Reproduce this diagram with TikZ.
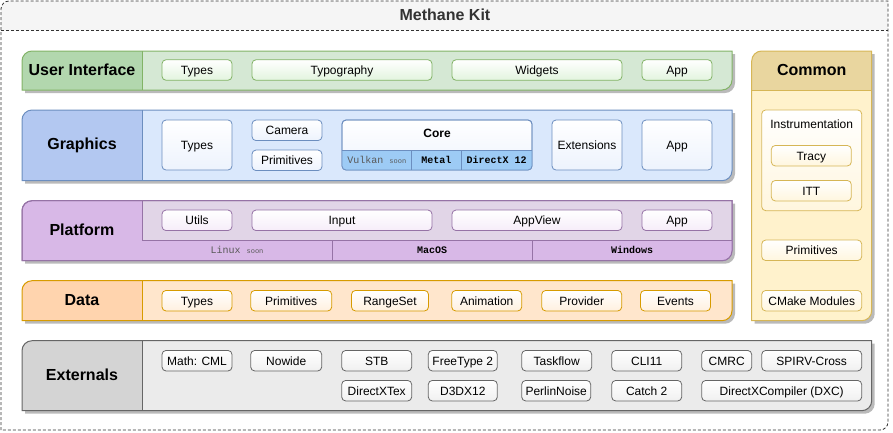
\documentclass[tikz,border=0pt]{standalone}
\usepackage{fontspec}
\setmainfont{Liberation Sans}
\setmonofont{Liberation Mono}
\usetikzlibrary{positioning,calc}

\definecolor{kitfill}{HTML}{F5F5F5}
\definecolor{uiline}{HTML}{82B366}
\definecolor{uifill}{HTML}{D5E8D4}
\definecolor{uilabel}{HTML}{B2D7AE}
\definecolor{uiitem}{HTML}{E2F4DE}
\definecolor{gfxline}{HTML}{6C8EBF}
\definecolor{gfxfill}{HTML}{DAE8FC}
\definecolor{gfxlabel}{HTML}{B3C8F1}
\definecolor{gfxitem}{HTML}{EDF3FD}
\definecolor{gfxstrip}{HTML}{9DCBF5}
\definecolor{platline}{HTML}{9673A6}
\definecolor{platfill}{HTML}{E1D5E7}
\definecolor{platlabel}{HTML}{D8B8E7}
\definecolor{platitem}{HTML}{F6EDF9}
\definecolor{dataline}{HTML}{D79B00}
\definecolor{datafill}{HTML}{FFE6CC}
\definecolor{datalabel}{HTML}{FFD4AE}
\definecolor{dataitem}{HTML}{FFF0DF}
\definecolor{extline}{HTML}{666666}
\definecolor{extfill}{HTML}{EBEBEB}
\definecolor{extlabel}{HTML}{D4D4D4}
\definecolor{extitem}{HTML}{F0F0F0}
\definecolor{cmline}{HTML}{D6B656}
\definecolor{cmfill}{HTML}{FFF2CC}
\definecolor{cmlabel}{HTML}{E9D69F}
\definecolor{cmitem}{HTML}{FFF6DE}

\tikzset{
    frame/.style={
        draw=#1line,
        line width=1pt,
    },
    rowshadow/.style={fill=black!27},
    layertitle/.style={
        font=\fontsize{16}{19}\selectfont\bfseries,
        text height=12pt,
        text depth=3pt,
    },
    item/.style={
        draw=#1line,
        line width=0.8pt,
        rounded corners=4pt,
        top color=white,
        bottom color=#1item,
        minimum width=70pt,
        minimum height=20.5pt,
        inner sep=0pt,
        outer sep=0pt,
        text height=9.5pt,
        text depth=0.5pt,
        font=\fontsize{12}{14}\selectfont,
    },
    item/.default=ui,
    cell/.style={
        font=\fontsize{10}{12}\selectfont\ttfamily,
        text height=7pt,
        text depth=1pt,
    },
    boldcell/.style={cell, font=\fontsize{10}{12}\selectfont\ttfamily\bfseries},
    kitborder/.style={draw=black!80, line width=0.8pt, dash pattern=on 3pt off 2pt},
}

% layer shape: rounded top-left and bottom-right corners
\newcommand{\layerframe}[4]{(#1,#4) -- (#1,#2+10) arc[start angle=180,end angle=90,radius=10pt] -- (#3,#2) -- (#3,#4-10) arc[start angle=0,end angle=-90,radius=10pt] -- cycle}
\newcommand{\layerhead}[4]{(#1,#4) -- (#1,#2+10) arc[start angle=180,end angle=90,radius=10pt] -- (#3,#2) -- (#3,#4) -- cycle}
\newcommand{\drawlayer}[5]{%
    \fill[rowshadow, shift={(3,3)}] \layerframe{#2}{#3}{#4}{#5};
    \fill[#1fill] \layerframe{#2}{#3}{#4}{#5};
    \fill[#1label] \layerhead{#2}{#3}{#2+120}{#5};
    \draw[frame=#1] \layerframe{#2}{#3}{#4}{#5};
    \draw[frame=#1] (#2+120,#3) -- (#2+120,#5);
}

\begin{document}
\begin{tikzpicture}[x=1pt, y=-1pt, node distance=20pt]
    \useasboundingbox (0,0) rectangle (893,432);

    % outer container
    \fill[kitfill] (1,30.7) -- (1,9) arc[start angle=180,end angle=90,radius=8pt] -- (888,1) -- (888,30.7) -- cycle;
    \draw[kitborder] (1,430) -- (1,9) arc[start angle=180,end angle=90,radius=8pt] -- (888,1) -- (888,422) arc[start angle=0,end angle=-90,radius=8pt] -- cycle;
    \draw[kitborder] (1,30.7) -- (888,30.7);
    \node[layertitle, text=black!80] (kit-title) at (445,15.5) {Methane Kit};

    % user interface
    \drawlayer{ui}{22}{51}{732}{90}
    \node[layertitle] (ui-label) at (82,70.5) {User Interface};
    \node[item=ui] (ui-types) at (197,70) {Types};
    \node[item=ui, minimum width=180pt, right=of ui-types] (ui-typo) {Typography};
    \node[item=ui, minimum width=170pt, right=of ui-typo] (ui-widgets) {Widgets};
    \node[item=ui, right=of ui-widgets] (ui-app) {App};

    % graphics
    \drawlayer{gfx}{22}{110}{732}{180.7}
    \node[layertitle] (gfx-label) at (82,145.3) {Graphics};
    \node[item=gfx, minimum height=50pt] (gfx-types) at (197,145) {Types};
    \node[item=gfx] (gfx-camera) at (287,130.3) {Camera};
    \node[item=gfx] (gfx-prims) at (287,160.3) {Primitives};
    \node[item=gfx, minimum width=190pt, minimum height=50pt] (gfx-core) at (437,145) {};
    \fill[gfxstrip] (342,150) -- (532,150) -- (532,166) arc[start angle=0,end angle=-90,radius=4pt] -- (346,170) arc[start angle=270,end angle=180,radius=4pt] -- cycle;
    \draw[gfxline, line width=0.8pt] (342,150) -- (532,150)
        (411.7,150) -- (411.7,170)
        (461,150) -- (461,170);
    \draw[gfxline, line width=0.8pt, rounded corners=4pt] (gfx-core.south west) rectangle (gfx-core.north east);
    \node[font=\fontsize{12}{14}\selectfont\bfseries] (core-title) at (437,133.5) {Core};
    \node[cell, text=black!65] (core-vk) at (376.8,160.3) {Vulkan {\fontsize{7}{8}\selectfont soon}};
    \node[boldcell] (core-mtl) at (436.3,160.3) {Metal};
    \node[boldcell] (core-dx) at (496.5,160.3) {DirectX 12};
    \node[item=gfx, minimum height=50pt, right=of gfx-core] (gfx-ext) {Extensions};
    \node[item=gfx, minimum height=50pt, right=of gfx-ext] (gfx-app) {App};

    % platform
    \drawlayer{plat}{22}{200.7}{732}{260.7}
    \fill[platlabel] (142,240) -- (732,240) -- (732,250.7) arc[start angle=0,end angle=-90,radius=10pt] -- (142,260.7) -- cycle;
    \draw[frame=plat] \layerframe{22}{200.7}{732}{260.7};
    \draw[frame=plat] (142,240) -- (732,240)
        (332,240) -- (332,260.7)
        (532,240) -- (532,260.7);
    \node[layertitle] (plat-label) at (82,230.7) {Platform};
    \node[item=plat] (plat-utils) at (197,220.3) {Utils};
    \node[item=plat, minimum width=180pt, right=of plat-utils] (plat-input) {Input};
    \node[item=plat, minimum width=170pt, right=of plat-input] (plat-view) {AppView};
    \node[item=plat, right=of plat-view] (plat-app) {App};
    \node[cell, text=black!65] (os-linux) at (237,250.5) {Linux {\fontsize{7}{8}\selectfont soon}};
    \node[boldcell] (os-mac) at (432,250.5) {MacOS};
    \node[boldcell] (os-win) at (632,250.5) {Windows};

    % data
    \drawlayer{data}{22}{280.7}{732}{320.7}
    \node[layertitle] (data-label) at (82,300.7) {Data};
    \node[item=data] (data-types) at (197,300.7) {Types};
    \node[item=data, minimum width=81pt] (data-prims) at (291.2,300.7) {Primitives};
    \node[item=data, minimum width=77pt] (data-range) at (390,300.7) {RangeSet};
    \node[item=data] (data-anim) at (486.7,300.7) {Animation};
    \node[item=data, minimum width=80pt] (data-prov) at (581.7,300.7) {Provider};
    \node[item=data] (data-events) at (675.5,300.7) {Events};

    % externals
    \drawlayer{ext}{22}{340.7}{871.7}{410.7}
    \node[layertitle] (ext-label) at (82,375.7) {Externals};
    \node[item=ext] (ext-cml) at (197,360.7) {Math: CML};
    \node[item=ext, minimum width=71pt] (ext-nowide) at (286.2,360.7) {Nowide};
    \node[item=ext] (ext-stb) at (376.7,360.7) {STB};
    \node[item=ext, minimum width=69pt] (ext-ft) at (462.8,360.7) {FreeType 2};
    \node[item=ext] (ext-tf) at (556.7,360.7) {Taskflow};
    \node[item=ext] (ext-cli) at (646.7,360.7) {CLI11};
    \node[item=ext, minimum width=50pt] (ext-cmrc) at (726.7,360.7) {CMRC};
    \node[item=ext, minimum width=100pt] (ext-spirv) at (811.7,360.7) {SPIRV-Cross};
    \node[item=ext] (ext-dxtex) at (376.7,390.7) {DirectXTex};
    \node[item=ext, minimum width=69pt] (ext-d3dx) at (462.8,390.7) {D3DX12};
    \node[item=ext, minimum width=69pt] (ext-perlin) at (556.2,390.7) {PerlinNoise};
    \node[item=ext] (ext-catch) at (646.7,390.7) {Catch 2};
    \node[item=ext, minimum width=160pt] (ext-dxc) at (781.7,390.7) {DirectXCompiler (DXC)};

    % common
    \fill[rowshadow, shift={(3,3)}] \layerframe{751.7}{51}{871.7}{320.7};
    \fill[cmfill] \layerframe{751.7}{51}{871.7}{320.7};
    \fill[cmlabel] \layerhead{751.7}{51}{871.7}{90};
    \draw[frame=cm] \layerframe{751.7}{51}{871.7}{320.7};
    \draw[frame=cm] (751.7,90) -- (871.7,90);
    \node[layertitle] (cm-label) at (811.7,70.5) {Common};
    \node[item=cm, minimum width=100pt, minimum height=100.7pt] (cm-instr) at (811.7,160.3) {};
    \node[font=\fontsize{12}{14}\selectfont] (cm-instr-title) at ([yshift=-14pt]cm-instr.north) {Instrumentation};
    \node[item=cm, minimum width=80pt] (cm-tracy) at (811.3,155.7) {Tracy};
    \node[item=cm, minimum width=80pt] (cm-itt) at (811.3,190.7) {ITT};
    \node[item=cm, minimum width=100pt] (cm-prims) at (811.7,250.3) {Primitives};
    \node[item=cm, minimum width=100pt] (cm-cmake) at (811.7,300.7) {CMake Modules};
\end{tikzpicture}
\end{document}
